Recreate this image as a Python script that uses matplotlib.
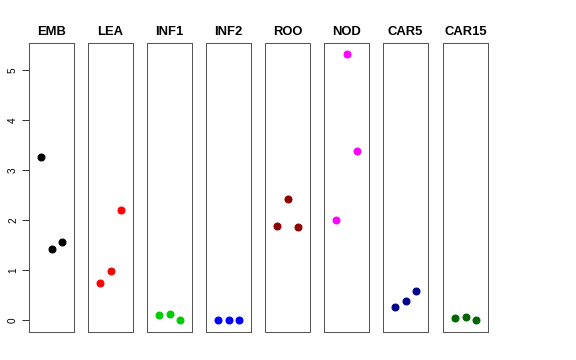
import matplotlib
matplotlib.use("Agg")
import matplotlib.pyplot as plt

plt.rcParams['font.family'] = ['Liberation Sans', 'DejaVu Sans']

groups = ["EMB", "LEA", "INF1", "INF2", "ROO", "NOD", "CAR5", "CAR15"]
colors = ["black", "red", "#00CD00", "blue", "#8B0000", "magenta", "#00008B", "#006400"]
reps = [1, 2, 3]

emb = [3.27, 1.43, 1.57]
lea = [0.75, 0.99, 2.21]
inf1 = [0.11, 0.12, 0.0]
inf2 = [0.0, 0.0, 0.0]
roo = [1.88, 2.43, 1.86]
nod = [2.0, 5.33, 3.39]
car5 = [0.27, 0.38, 0.59]
car15 = [0.05, 0.06, 0.0]
values = [emb, lea, inf1, inf2, roo, nod, car5, car15]

yticks = [0, 1, 2, 3, 4, 5]

W, H = 576, 360
fig = plt.figure(figsize=(8, 5), dpi=72)

lefts = [29, 88, 147, 206, 265, 324, 383, 443]
top, bottom, width = 43, 332, 45

for i, name in enumerate(groups):
    ax = fig.add_axes([lefts[i] / W, (H - bottom) / H, width / W, (bottom - top) / H])
    ax.plot(reps, values[i], 'o', color=colors[i], markersize=7)
    ax.set_xlim(-0.16, 4.16)
    ax.set_ylim(-0.23, 5.54)
    ax.set_xticks([])
    for s in ax.spines.values():
        s.set_color('#555555')
        s.set_linewidth(1)
    ax.set_title(name, fontsize=13, fontweight='bold', pad=8)
    if i == 0:
        ax.set_yticks(yticks)
        ax.tick_params(axis='y', length=7, width=1, color='#333333', labelsize=10, pad=4)
        for lab in ax.get_yticklabels():
            lab.set_rotation(90)
            lab.set_va('center')
    else:
        ax.set_yticks([])

fig.savefig("out.png", dpi=72)
